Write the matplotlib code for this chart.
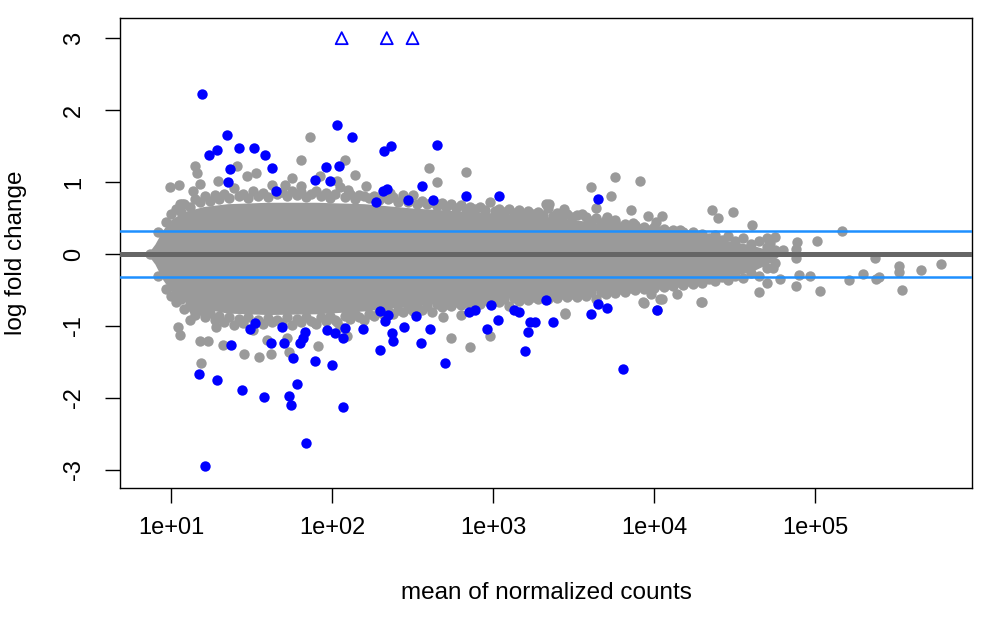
import numpy as np
import matplotlib
matplotlib.use("Agg")
import matplotlib.pyplot as plt

plt.rcParams['font.family'] = ['Liberation Sans', 'DejaVu Sans']

# dense body of non-significant genes: log10(mean count), upper / lower LFC edge
core_log_mean = [0.86, 0.90, 0.95, 1.00, 1.05, 1.10, 1.20, 1.35, 1.60, 1.90, 2.20, 2.50,
                 2.80, 3.10, 3.40, 3.60, 3.80, 4.00, 4.20, 4.40, 4.60, 4.72, 4.78]
core_upper = [0.02, 0.14, 0.34, 0.48, 0.55, 0.60, 0.66, 0.70, 0.72, 0.72, 0.70, 0.64,
              0.60, 0.56, 0.51, 0.45, 0.37, 0.32, 0.27, 0.21, 0.13, 0.05, 0.00]
core_lower = [-0.02, -0.14, -0.36, -0.52, -0.60, -0.68, -0.76, -0.82, -0.84, -0.83, -0.79, -0.72,
              -0.66, -0.61, -0.57, -0.52, -0.47, -0.43, -0.38, -0.33, -0.25, -0.12, -0.02]

# genes along the edge of the body (log10 mean, lfc)
edge_upper = [
    (0.92, 0.30), (0.97, 0.45), (1.00, 0.55), (1.03, 0.62), (1.06, 0.58), (1.08, 0.70),
    (1.12, 0.66), (1.15, 0.76), (1.18, 0.72), (1.21, 0.80), (1.24, 0.74), (1.27, 0.82),
    (1.30, 0.77), (1.33, 0.84), (1.36, 0.78), (1.39, 0.92), (1.42, 0.80), (1.45, 0.84),
    (1.48, 0.78), (1.51, 0.88), (1.54, 0.81), (1.57, 0.85), (1.60, 0.79), (1.63, 0.96),
    (1.66, 0.83), (1.69, 0.86), (1.72, 0.80), (1.75, 0.88), (1.78, 0.82), (1.81, 0.86),
    (1.84, 0.79), (1.87, 0.84), (1.90, 0.88), (1.93, 0.80), (1.96, 0.85), (1.99, 0.78),
    (2.02, 0.83), (2.05, 0.93), (2.08, 0.79), (2.11, 0.84), (2.14, 0.77), (2.17, 0.82),
    (2.20, 0.80), (2.23, 0.78), (2.26, 0.81), (2.29, 0.75), (2.32, 0.80), (2.35, 0.76),
    (2.38, 0.79), (2.41, 0.73), (2.44, 0.78), (2.47, 0.72), (2.50, 0.82), (2.53, 0.70),
    (2.56, 0.74), (2.59, 0.69), (2.62, 0.72), (2.65, 0.67), (2.68, 0.71), (2.71, 0.66),
    (2.74, 0.69), (2.77, 0.64), (2.80, 0.68), (2.83, 0.63), (2.86, 0.66), (2.89, 0.62),
    (2.92, 0.65), (2.95, 0.61), (2.98, 0.72), (3.01, 0.60), (3.04, 0.63), (3.07, 0.59),
    (3.10, 0.62), (3.13, 0.57), (3.16, 0.61), (3.19, 0.56), (3.22, 0.60), (3.25, 0.55),
    (3.28, 0.58), (3.31, 0.54), (3.34, 0.64), (3.37, 0.53), (3.40, 0.57), (3.43, 0.52),
    (3.46, 0.56), (3.49, 0.51), (3.52, 0.54), (3.55, 0.55), (3.58, 0.52), (3.61, 0.46),
    (3.64, 0.50), (3.67, 0.43), (3.70, 0.47), (3.73, 0.40), (3.76, 0.44), (3.79, 0.38),
    (3.82, 0.42), (3.85, 0.36), (3.88, 0.40), (3.91, 0.35), (3.94, 0.38), (3.97, 0.33),
    (4.00, 0.37), (4.03, 0.32), (4.06, 0.35), (4.09, 0.30), (4.12, 0.33), (4.15, 0.28),
    (4.18, 0.31), (4.21, 0.26), (4.24, 0.30), (4.27, 0.25), (4.30, 0.28), (4.34, 0.22),
    (4.38, 0.27), (4.42, 0.20), (4.46, 0.25), (4.50, 0.18), (4.55, 0.22), (4.60, 0.14),
    (4.65, 0.18), (4.70, 0.10), (4.75, 0.05),
]
edge_lower = [
    (0.92, -0.30), (0.97, -0.48), (1.00, -0.58), (1.03, -0.66), (1.06, -0.62), (1.08, -0.76),
    (1.12, -0.72), (1.15, -0.84), (1.18, -0.78), (1.21, -0.88), (1.24, -0.82), (1.27, -0.92),
    (1.30, -0.86), (1.33, -0.95), (1.36, -0.88), (1.39, -0.98), (1.42, -0.90), (1.45, -0.96),
    (1.48, -0.88), (1.51, -1.06), (1.54, -0.91), (1.57, -0.97), (1.60, -0.89), (1.63, -0.94),
    (1.66, -0.92), (1.69, -0.96), (1.72, -0.88), (1.75, -0.98), (1.78, -0.90), (1.81, -0.95),
    (1.84, -0.87), (1.87, -0.93), (1.90, -0.97), (1.93, -0.88), (1.96, -0.93), (1.99, -0.86),
    (2.02, -0.91), (2.05, -1.01), (2.08, -0.86), (2.11, -0.90), (2.14, -0.83), (2.17, -0.88),
    (2.20, -0.92), (2.23, -0.83), (2.26, -0.86), (2.29, -0.80), (2.32, -0.85), (2.35, -0.79),
    (2.38, -0.83), (2.41, -0.77), (2.44, -0.81), (2.47, -0.75), (2.50, -0.79), (2.53, -0.73),
    (2.56, -0.77), (2.59, -0.72), (2.62, -0.81), (2.65, -0.70), (2.68, -0.74), (2.71, -0.69),
    (2.74, -0.72), (2.77, -0.67), (2.80, -0.71), (2.83, -0.66), (2.86, -0.70), (2.89, -0.65),
    (2.92, -0.69), (2.95, -0.64), (2.98, -0.68), (3.01, -0.63), (3.04, -0.67), (3.07, -0.62),
    (3.10, -0.72), (3.13, -0.61), (3.16, -0.65), (3.19, -0.60), (3.22, -0.64), (3.25, -0.59),
    (3.28, -0.63), (3.31, -0.58), (3.34, -0.62), (3.37, -0.57), (3.40, -0.61), (3.43, -0.56),
    (3.46, -0.60), (3.49, -0.55), (3.52, -0.59), (3.55, -0.54), (3.58, -0.58), (3.61, -0.53),
    (3.64, -0.63), (3.67, -0.52), (3.70, -0.55), (3.73, -0.50), (3.76, -0.54), (3.79, -0.48),
    (3.82, -0.52), (3.85, -0.47), (3.88, -0.50), (3.91, -0.45), (3.94, -0.49), (3.97, -0.44),
    (4.00, -0.47), (4.03, -0.42), (4.06, -0.46), (4.09, -0.41), (4.12, -0.44), (4.15, -0.39),
    (4.18, -0.43), (4.21, -0.37), (4.24, -0.41), (4.27, -0.36), (4.30, -0.40), (4.34, -0.34),
    (4.38, -0.38), (4.42, -0.32), (4.46, -0.36), (4.50, -0.30), (4.55, -0.33), (4.60, -0.26),
    (4.65, -0.30), (4.70, -0.20), (4.75, -0.12),
]

# scattered non-significant genes
gray_outliers = [
    (1.863, 1.63), (1.805, 1.31), (2.080, 1.31), (2.140, 1.10), (2.210, 0.94), (1.750, 1.06),
    (1.410, 1.23), (1.149, 1.22), (1.160, 1.12), (0.994, 0.93), (1.050, 0.96), (1.180, 0.98),
    (1.290, 1.01), (1.530, 1.125), (1.470, 1.09), (1.056, 0.69), (1.139, 0.87), (1.710, 0.96),
    (1.810, 0.94), (1.925, 1.08), (2.030, 1.01), (2.100, 0.89), (2.360, 0.85), (2.440, 0.82),
    (2.600, 1.20), (2.830, 1.14), (2.650, 1.00), (3.610, 0.93), (3.760, 1.07), (3.910, 1.01),
    (3.730, 0.81), (3.860, 0.61), (3.960, 0.53), (4.050, 0.53), (3.330, 0.70), (3.440, 0.62),
    (3.640, 0.64), (3.350, 0.70), (4.010, 0.44), (3.870, 0.43), (3.760, 0.47), (3.710, 0.52),
    (4.360, 0.61), (4.400, 0.50), (4.490, 0.59), (4.610, 0.40), (4.160, 0.33), (5.170, 0.32),
    (5.010, 0.18), (4.890, 0.17), (4.880, 0.07), (4.700, 0.22), (4.750, 0.24), (1.066, 0.70),
    (4.880, -0.05), (5.370, -0.06), (5.520, -0.16), (5.520, -0.25), (5.660, -0.22),
    (5.780, -0.14), (5.540, -0.50), (5.030, -0.51), (4.880, -0.45), (4.900, -0.29),
    (4.970, -0.31), (5.210, -0.36), (5.300, -0.28), (5.380, -0.34), (5.400, -0.32),
    (4.300, -0.67), (4.650, -0.52), (4.72, 0.15), (4.74, -0.20), (4.78, -0.35), (4.70, -0.40),
    (4.80, 0.05), (1.186, -1.51), (1.045, -1.01), (1.056, -1.125), (1.180, -1.21),
    (1.230, -1.21), (1.320, -1.26), (1.455, -1.39), (1.545, -1.43), (1.594, -1.20),
    (1.620, -1.39), (1.720, -1.17), (1.730, -1.36), (1.910, -1.28), (1.894, -0.96),
    (2.030, -0.94), (2.090, -1.14), (2.090, -0.81), (1.118, -0.92), (1.140, -0.78),
    (1.045, -0.57), (1.025, -0.57), (1.118, -0.69), (1.210, -0.82), (1.280, -1.01),
    (2.740, -1.16), (2.860, -1.29), (2.980, -1.14), (2.690, -0.88), (2.800, -0.85),
    (3.450, -0.82), (3.940, -0.68), (4.050, -0.63), (4.020, -0.77), (4.140, -0.56),
    (3.980, -0.55), (4.290, -0.66), (4.040, -0.62), (3.930, -0.67), (3.450, -0.83),
    (0.870, 0.00),
]

# significant genes (padj < 0.1)
sig_genes = [
    (1.194, 2.23), (1.346, 1.66), (1.236, 1.38), (1.288, 1.44), (1.422, 1.47), (1.516, 1.47),
    (1.586, 1.375), (1.625, 1.20), (1.366, 1.18), (1.352, 1.00), (1.654, 0.88), (1.895, 1.03),
    (1.965, 1.21), (1.988, 1.02), (2.043, 1.23), (2.033, 1.80), (2.122, 1.62), (2.325, 1.43),
    (2.366, 1.50), (2.319, 0.87), (2.340, 0.91), (2.270, 0.72), (2.470, 0.75), (2.560, 0.94),
    (2.650, 1.51), (2.630, 0.75), (2.830, 0.81), (3.040, 0.81), (3.650, 0.77),
    (1.174, -1.66), (1.284, -1.75), (1.440, -1.89), (1.578, -1.99), (1.735, -1.97),
    (1.745, -2.09), (1.785, -1.81), (1.837, -2.62), (1.211, -2.94), (2.070, -2.13),
    (1.760, -1.44), (1.894, -1.48), (2.000, -1.54), (2.300, -1.33), (1.520, -0.96),
    (1.490, -1.04), (1.690, -1.02), (1.620, -1.23), (1.700, -1.23), (1.800, -1.23),
    (1.830, -1.08), (1.820, -1.17), (1.970, -1.06), (2.020, -1.10), (2.070, -1.16),
    (2.080, -1.03), (2.190, -1.04), (2.300, -0.79), (2.350, -0.85), (2.330, -0.93),
    (2.370, -1.10), (2.380, -1.21), (2.450, -1.02), (2.520, -0.86), (1.370, -1.27),
    (2.610, -1.04), (2.555, -1.23), (2.700, -1.52), (2.850, -0.81), (2.890, -0.77),
    (2.990, -0.71), (2.960, -1.04), (3.030, -0.91), (3.130, -0.78), (3.160, -0.81),
    (3.230, -0.95), (3.260, -0.95), (3.220, -1.08), (3.200, -1.34), (3.375, -0.95),
    (3.610, -0.83), (3.650, -0.69), (3.710, -0.75), (3.810, -1.59), (3.330, -0.64),
    (4.020, -0.78),
]

# significant genes beyond the y limit (drawn as triangles at the edge)
clipped_log_mean = [2.06, 2.34, 2.50]
clip_value = 3.0

lfc_threshold = 0.32

gray = '#9a9a9a'
sig_col = '#0000ff'

fig = plt.figure(figsize=(9.84, 6.18), dpi=100)
ax = fig.add_axes([120 / 984, 1 - 488 / 618, 852 / 984, 470 / 618])

ax.fill_between(10 ** np.array(core_log_mean), core_lower, core_upper,
                color=gray, linewidth=0, zorder=2)
non_sig = np.array(edge_upper + edge_lower + gray_outliers)
ax.scatter(10 ** non_sig[:, 0], non_sig[:, 1], s=56, color=gray, linewidths=0, zorder=2)
sig = np.array(sig_genes)
ax.scatter(10 ** sig[:, 0], sig[:, 1], s=56, color=sig_col, linewidths=0, zorder=3)
ax.scatter(10 ** np.array(clipped_log_mean), [clip_value] * len(clipped_log_mean), s=75,
           marker='^', facecolors='none', edgecolors=sig_col, linewidths=1.3, zorder=3)

ax.axhline(0, color='#666666', linewidth=3.6, zorder=4)
ax.axhline(lfc_threshold, color='#1e90ff', linewidth=1.8, zorder=4)
ax.axhline(-lfc_threshold, color='#1e90ff', linewidth=1.8, zorder=4)

ax.set_xscale('log')
ax.set_xlim(10 ** 0.683, 10 ** 5.975)
ax.set_ylim(-3.25, 3.28)
ax.minorticks_off()
ax.set_xticks([1e1, 1e2, 1e3, 1e4, 1e5])
ax.set_xticklabels(['1e+01', '1e+02', '1e+03', '1e+04', '1e+05'])
ax.set_yticks([-3, -2, -1, 0, 1, 2, 3])
ax.set_yticklabels(['-3', '-2', '-1', '0', '1', '2', '3'], rotation=90, va='center')
ax.tick_params(axis='both', length=11, width=1, labelsize=17)
ax.tick_params(axis='x', pad=10)
ax.tick_params(axis='y', pad=14)
for s in ax.spines.values():
    s.set_linewidth(1.0)

ax.set_xlabel('mean of normalized counts', fontsize=17.5, labelpad=31)
ax.set_ylabel('log fold change', fontsize=17.5, labelpad=26)

fig.savefig('out.png', dpi=100)
